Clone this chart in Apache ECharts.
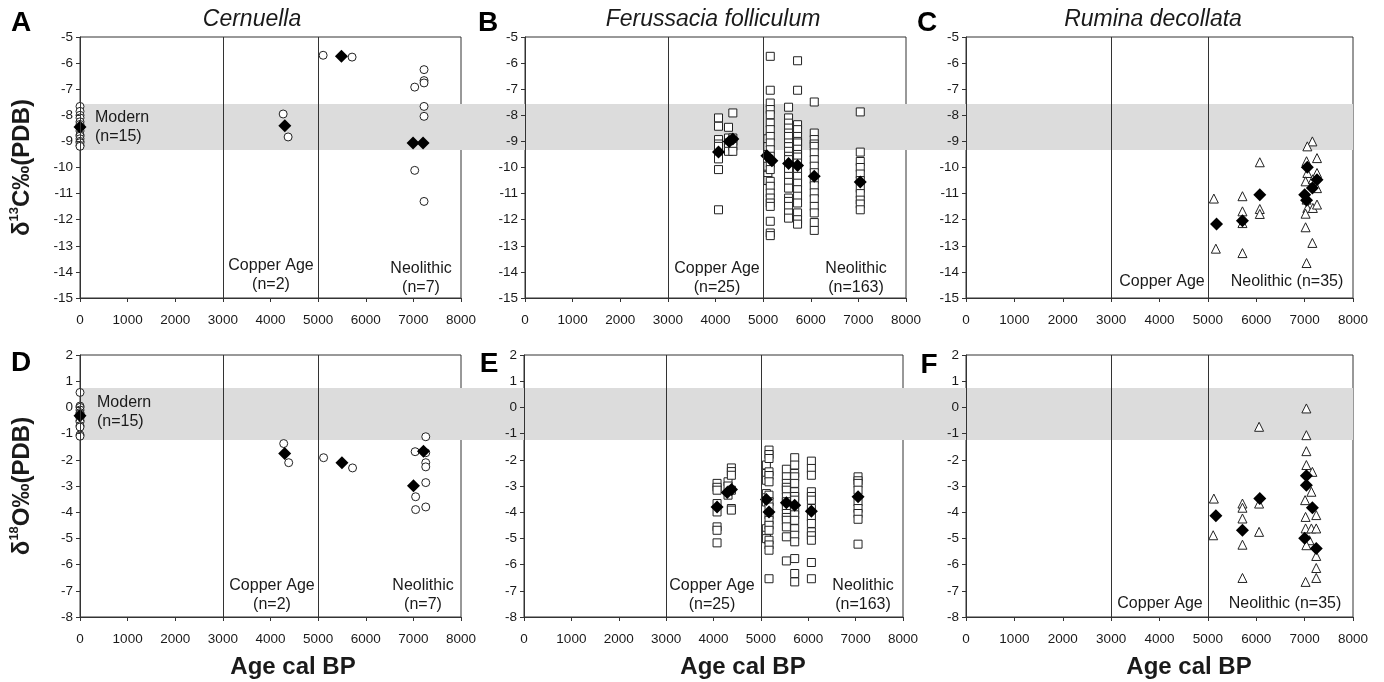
<!DOCTYPE html>
<html>
<head>
<meta charset="utf-8">
<script src="https://cdn.jsdelivr.net/npm/echarts@6/dist/echarts.min.js"></script>
<style>
  html, body { margin: 0; padding: 0; background: #fff; }
  #chart { width: 1384px; height: 682px; }
</style>
</head>
<body>
<div id="chart"></div>
<script>
// period boundaries (cal BP) and modern ranges (grey bands)
const periodBounds = [3000, 5000];
const modernBandC13 = [-7.57, -9.33];
const modernBandO18 = [0.74, -1.24];

// Cernuella
const cernuellaC13 = [
  [0, -7.66], [0, -7.85], [0, -8.0], [0, -8.1], [0, -8.25], [0, -8.35], [0, -8.5], [0, -8.6],
  [0, -8.75], [0, -8.8], [0, -8.9], [0, -9.0], [0, -9.05], [0, -9.15], [0, -9.19],
  [4266, -7.95], [4370, -8.83],
  [5105, -5.70], [5713, -5.77],
  [7028, -6.92], [7224, -6.25], [7224, -6.67], [7224, -6.76], [7224, -7.66], [7224, -8.04],
  [7028, -10.11], [7224, -11.30]
];
const cernuellaC13Mean = [[0, -8.45], [4300, -8.40], [5490, -5.74], [6993, -9.06], [7203, -9.06]];
const cernuellaO18 = [
  [0, 0.57], [0, 0.05], [0, 0.0], [0, -0.1], [0, -0.2], [0, -0.25], [0, -0.3], [0, -0.35],
  [0, -0.4], [0, -0.5], [0, -0.55], [0, -0.7], [0, -0.75], [0, -1.05], [0, -1.10],
  [4277, -1.38], [4382, -2.11],
  [5115, -1.92], [5723, -2.31],
  [7037, -1.69], [7260, -1.12], [7260, -1.73], [7260, -2.11], [7260, -2.27], [7260, -2.87], [7260, -3.80],
  [7047, -3.41], [7047, -3.90]
];
const cernuellaO18Mean = [[0, -0.32], [4298, -1.76], [5500, -2.11], [7002, -2.99], [7212, -1.67]];

// Ferussacia folliculum
const ferussaciaC13 = [
  [4063, -8.10], [4063, -8.42], [4063, -8.93], [4063, -9.10], [4063, -9.19], [4063, -9.47], [4063, -9.67], [4063, -10.08], [4063, -11.62],
  [4273, -8.46], [4273, -8.87], [4273, -9.06], [4273, -9.25], [4273, -9.38],
  [4364, -7.91], [4364, -8.87], [4364, -9.0], [4364, -9.19], [4364, -9.38],
  [5100, -8.90], [5100, -9.20], [5100, -9.50], [5100, -9.95], [5100, -10.30], [5100, -10.50],
  [5150, -5.74], [5150, -7.04], [5150, -7.53], [5150, -7.78], [5150, -7.98], [5150, -8.30], [5150, -8.55], [5150, -8.81],
  [5150, -9.06], [5150, -9.32], [5150, -9.57], [5150, -9.83], [5150, -10.08], [5150, -10.53], [5150, -10.72],
  [5150, -10.98], [5150, -11.17], [5150, -11.36], [5150, -11.49], [5150, -12.06], [5150, -12.51], [5150, -12.61],
  [5534, -7.69], [5534, -8.10], [5534, -8.30], [5534, -8.49], [5534, -8.68], [5534, -8.81], [5534, -9.06], [5534, -9.20],
  [5534, -9.38], [5534, -9.57], [5534, -9.70], [5534, -10.0], [5534, -10.08], [5534, -10.34], [5534, -10.57], [5534, -10.79],
  [5534, -11.17], [5534, -11.30], [5534, -11.49], [5534, -11.74], [5534, -11.94],
  [5723, -5.91], [5723, -7.04], [5723, -8.36], [5723, -8.55], [5723, -8.81], [5723, -9.0], [5723, -9.06], [5723, -9.30],
  [5723, -9.50], [5723, -9.60], [5723, -9.83], [5723, -10.08], [5723, -10.34], [5723, -10.60], [5723, -10.85], [5723, -11.10],
  [5723, -11.36], [5723, -11.74], [5723, -12.0], [5723, -12.17],
  [6074, -7.49], [6074, -8.68], [6074, -8.93], [6074, -9.10], [6074, -9.19], [6074, -9.44], [6074, -9.70], [6074, -9.95],
  [6074, -10.20], [6074, -10.46], [6074, -10.70], [6074, -10.97], [6074, -11.20], [6074, -11.49], [6074, -11.74], [6074, -12.11], [6074, -12.41],
  [7040, -7.87], [7040, -9.41], [7040, -9.77], [7040, -10.0], [7040, -10.25], [7040, -10.50], [7040, -10.80], [7040, -11.0],
  [7040, -11.25], [7040, -11.40], [7040, -11.62]
];
const ferussaciaC13Mean = [[4063, -9.41], [4290, -9.0], [4364, -8.91], [5079, -9.55], [5184, -9.74], [5534, -9.85], [5723, -9.92], [6074, -10.34], [7040, -10.56]];
const ferussaciaO18 = [
  [4075, -2.90], [4075, -3.05], [4075, -3.16], [4075, -3.67], [4075, -3.99], [4075, -4.56], [4075, -4.69], [4075, -5.17],
  [4307, -2.84], [4307, -3.0], [4307, -3.35],
  [4377, -2.31], [4377, -2.45], [4377, -2.59], [4377, -3.16], [4377, -3.86], [4377, -3.92],
  [5116, -2.20], [5116, -2.52], [5116, -2.78], [5116, -3.29], [5116, -3.45], [5116, -3.61], [5116, -4.63], [5116, -4.88], [5116, -5.01],
  [5172, -1.63], [5172, -1.80], [5172, -1.95], [5172, -2.46], [5172, -2.60], [5172, -2.84], [5172, -3.35], [5172, -3.60], [5172, -3.80],
  [5172, -4.10], [5172, -4.31], [5172, -4.50], [5172, -4.69], [5172, -5.07], [5172, -5.25], [5172, -5.45], [5172, -6.54],
  [5538, -2.36], [5538, -2.65], [5538, -2.90], [5538, -3.05], [5538, -3.16], [5538, -3.41], [5538, -3.60], [5538, -3.80],
  [5538, -4.05], [5538, -4.20], [5538, -4.31], [5538, -4.56], [5538, -4.94], [5538, -5.86],
  [5714, -1.92], [5714, -2.20], [5714, -2.52], [5714, -2.65], [5714, -2.90], [5714, -3.22], [5714, -3.40], [5714, -3.54],
  [5714, -3.92], [5714, -4.10], [5714, -4.31], [5714, -4.63], [5714, -4.88], [5714, -5.13], [5714, -5.77], [5714, -6.34], [5714, -6.66],
  [6066, -2.05], [6066, -2.33], [6066, -2.59], [6066, -3.22], [6066, -3.40], [6066, -3.54], [6066, -3.86], [6066, -4.18],
  [6066, -4.43], [6066, -4.75], [6066, -4.90], [6066, -5.07], [6066, -5.92], [6066, -6.54],
  [7051, -2.65], [7051, -2.80], [7051, -2.90], [7051, -3.16], [7051, -3.61], [7051, -3.86], [7051, -4.05], [7051, -4.27], [7051, -5.22]
];
const ferussaciaO18Mean = [[4075, -3.80], [4290, -3.25], [4380, -3.13], [5116, -3.52], [5172, -3.99], [5538, -3.64], [5714, -3.73], [6066, -3.96], [7051, -3.41]];

// Rumina decollata
const ruminaC13 = [
  [5124, -11.19], [5165, -13.11],
  [5715, -11.10], [5715, -11.68], [5715, -12.13], [5715, -13.28],
  [6073, -9.80], [6073, -11.59], [6073, -11.78],
  [7160, -9.00], [7056, -9.19], [7256, -9.64], [7040, -9.76], [7056, -10.21], [7020, -10.53], [7256, -10.21], [7170, -10.45],
  [7256, -10.79], [7040, -11.23], [7056, -11.55], [7170, -11.55], [7256, -11.42], [7020, -11.77], [7020, -12.29], [7160, -12.89], [7040, -13.66]
];
const ruminaC13Mean = [[5179, -12.16], [5715, -12.04], [6073, -11.04], [7056, -9.99], [7001, -11.04], [7040, -11.25], [7160, -10.79], [7256, -10.47]];
const ruminaO18 = [
  [5124, -3.48], [5110, -4.88],
  [5715, -3.67], [5715, -3.83], [5715, -4.24], [5715, -5.24], [5715, -6.51],
  [6059, -0.74], [6059, -3.67], [6059, -4.75],
  [7036, -0.04], [7036, -1.06], [7036, -1.67], [7036, -2.20], [7160, -2.46], [7010, -3.54], [7020, -4.18], [7140, -3.22],
  [7240, -4.11], [7020, -4.62], [7140, -4.62], [7240, -4.62], [7100, -5.07], [7036, -5.26], [7240, -5.67], [7240, -6.13],
  [7240, -6.51], [7020, -6.66]
];
const ruminaO18Mean = [[5165, -4.14], [5715, -4.69], [6073, -3.48], [7036, -2.61], [7036, -2.97], [7160, -3.83], [7001, -4.99], [7240, -5.39]];

const FONT = '"Liberation Sans", Arial, sans-serif';
const INK = '#1a1a1a';

const panels = [
  { left: 80,  top: 37,  width: 381, height: 261, y: [-15, -5], pts: cernuellaC13, mean: cernuellaC13Mean, sym: 'circle', size: 8, yName: 'C' },
  { left: 525, top: 37,  width: 381, height: 261, y: [-15, -5], pts: ferussaciaC13, mean: ferussaciaC13Mean, sym: 'rect', size: 8 },
  { left: 966, top: 37,  width: 387, height: 261, y: [-15, -5], pts: ruminaC13, mean: ruminaC13Mean, sym: 'triangle', size: 9 },
  { left: 80,  top: 355, width: 381, height: 262, y: [-8, 2], pts: cernuellaO18, mean: cernuellaO18Mean, sym: 'circle', size: 8, yName: 'O' },
  { left: 524, top: 355, width: 379, height: 262, y: [-8, 2], pts: ferussaciaO18, mean: ferussaciaO18Mean, sym: 'rect', size: 8 },
  { left: 966, top: 355, width: 387, height: 262, y: [-8, 2], pts: ruminaO18, mean: ruminaO18Mean, sym: 'triangle', size: 9 }
];

const grid = [], xAxis = [], yAxis = [], series = [];

panels.forEach((p, i) => {
  grid.push({ left: p.left, top: p.top, width: p.width, height: p.height, show: true, borderColor: '#333', borderWidth: 1, z: 1 });
  xAxis.push({
    gridIndex: i, type: 'value', min: 0, max: 8000, interval: 1000, z: 5,
    axisLine: { onZero: false, lineStyle: { color: '#333' } },
    axisTick: { length: 4, lineStyle: { color: '#333' } },
    axisLabel: { color: INK, fontFamily: FONT, fontSize: 13.5, margin: 15, formatter: v => String(v) },
    splitLine: { show: false }
  });
  const y = {
    gridIndex: i, type: 'value', min: p.y[0], max: p.y[1], interval: 1, z: 5,
    axisLine: { onZero: false, lineStyle: { color: '#333' } },
    axisTick: { length: 4, lineStyle: { color: '#333' } },
    axisLabel: { color: INK, fontFamily: FONT, fontSize: 13.5, margin: 7 },
    splitLine: { show: false }
  };
  if (p.yName) {
    const iso = p.yName === 'C' ? '13' : '18';
    y.name = '{a|δ}{s|' + iso + '}{a|' + p.yName + '‰(PDB)}';
    y.nameLocation = 'middle';
    y.nameGap = 44;
    y.nameTextStyle = {
      rich: {
        a: { fontFamily: FONT, fontSize: 24, fontWeight: 'bold', color: INK, lineHeight: 28 },
        s: { fontFamily: FONT, fontSize: 13, fontWeight: 'bold', color: INK, lineHeight: 28, verticalAlign: 'top' }
      }
    };
  }
  yAxis.push(y);

  series.push({
    type: 'scatter', xAxisIndex: i, yAxisIndex: i, data: p.pts,
    symbol: p.sym, symbolSize: p.size, z: 3,
    itemStyle: { color: '#fff', borderColor: '#222', borderWidth: 1, opacity: 1 },
    markLine: {
      silent: true, symbol: 'none', label: { show: false },
      lineStyle: { color: '#333', width: 1, type: 'solid' },
      data: periodBounds.map(v => ({ xAxis: v }))
    }
  });
  series.push({
    type: 'scatter', xAxisIndex: i, yAxisIndex: i, data: p.mean,
    symbol: 'diamond', symbolSize: 13, z: 4,
    itemStyle: { color: '#000', opacity: 1 }
  });
});

// full-width grids carrying the grey "modern" bands across all three panels
[[37, 261, [-15, -5], modernBandC13], [355, 262, [-8, 2], modernBandO18]].forEach((b, k) => {
  const gi = 6 + k;
  grid.push({ left: 80, top: b[0], width: 1273, height: b[1], z: 0 });
  xAxis.push({ gridIndex: gi, type: 'value', min: 0, max: 1, show: false });
  yAxis.push({ gridIndex: gi, type: 'value', min: b[2][0], max: b[2][1], show: false });
  series.push({
    type: 'scatter', xAxisIndex: gi, yAxisIndex: gi, data: [], z: 0, silent: true,
    markArea: {
      silent: true,
      itemStyle: { color: '#dcdcdc' },
      data: [[{ yAxis: b[3][0] }, { yAxis: b[3][1] }]]
    }
  });
});

function txt(x, y, text, style) {
  return {
    type: 'text', x: x, y: y, z: 10,
    style: Object.assign({ text: text, fill: INK, font: '16px ' + FONT, textAlign: 'center', textVerticalAlign: 'middle', lineHeight: 19 }, style || {})
  };
}

const graphic = [
  txt(21, 23, 'A', { font: 'bold 28px ' + FONT, fill: '#000' }),
  txt(488, 23, 'B', { font: 'bold 28px ' + FONT, fill: '#000' }),
  txt(927, 23, 'C', { font: 'bold 28px ' + FONT, fill: '#000' }),
  txt(21, 363, 'D', { font: 'bold 28px ' + FONT, fill: '#000' }),
  txt(489, 364, 'E', { font: 'bold 28px ' + FONT, fill: '#000' }),
  txt(929, 365, 'F', { font: 'bold 28px ' + FONT, fill: '#000' }),

  txt(252, 20, 'Cernuella', { font: 'italic 23px ' + FONT }),
  txt(713, 20, 'Ferussacia folliculum', { font: 'italic 23px ' + FONT }),
  txt(1153, 20, 'Rumina decollata', { font: 'italic 23px ' + FONT }),

  txt(293, 667, 'Age cal BP', { font: 'bold 24px ' + FONT }),
  txt(743, 667, 'Age cal BP', { font: 'bold 24px ' + FONT }),
  txt(1189, 667, 'Age cal BP', { font: 'bold 24px ' + FONT }),

  txt(95, 127, 'Modern\n(n=15)', { textAlign: 'left' }),
  txt(271, 275, 'Copper Age\n(n=2)'),
  txt(421, 278, 'Neolithic\n(n=7)'),
  txt(717, 278, 'Copper Age\n(n=25)'),
  txt(856, 278, 'Neolithic\n(n=163)'),
  txt(1162, 282, 'Copper Age'),
  txt(1287, 282, 'Neolithic (n=35)'),

  txt(97, 412, 'Modern\n(n=15)', { textAlign: 'left' }),
  txt(272, 595, 'Copper Age\n(n=2)'),
  txt(423, 595, 'Neolithic\n(n=7)'),
  txt(712, 595, 'Copper Age\n(n=25)'),
  txt(863, 595, 'Neolithic\n(n=163)'),
  txt(1160, 604, 'Copper Age'),
  txt(1285, 604, 'Neolithic (n=35)')
];

const chart = echarts.init(document.getElementById('chart'));
chart.setOption({
  animation: false,
  backgroundColor: '#fff',
  textStyle: { fontFamily: FONT },
  grid: grid,
  xAxis: xAxis,
  yAxis: yAxis,
  series: series,
  graphic: graphic
});
</script>
</body>
</html>
